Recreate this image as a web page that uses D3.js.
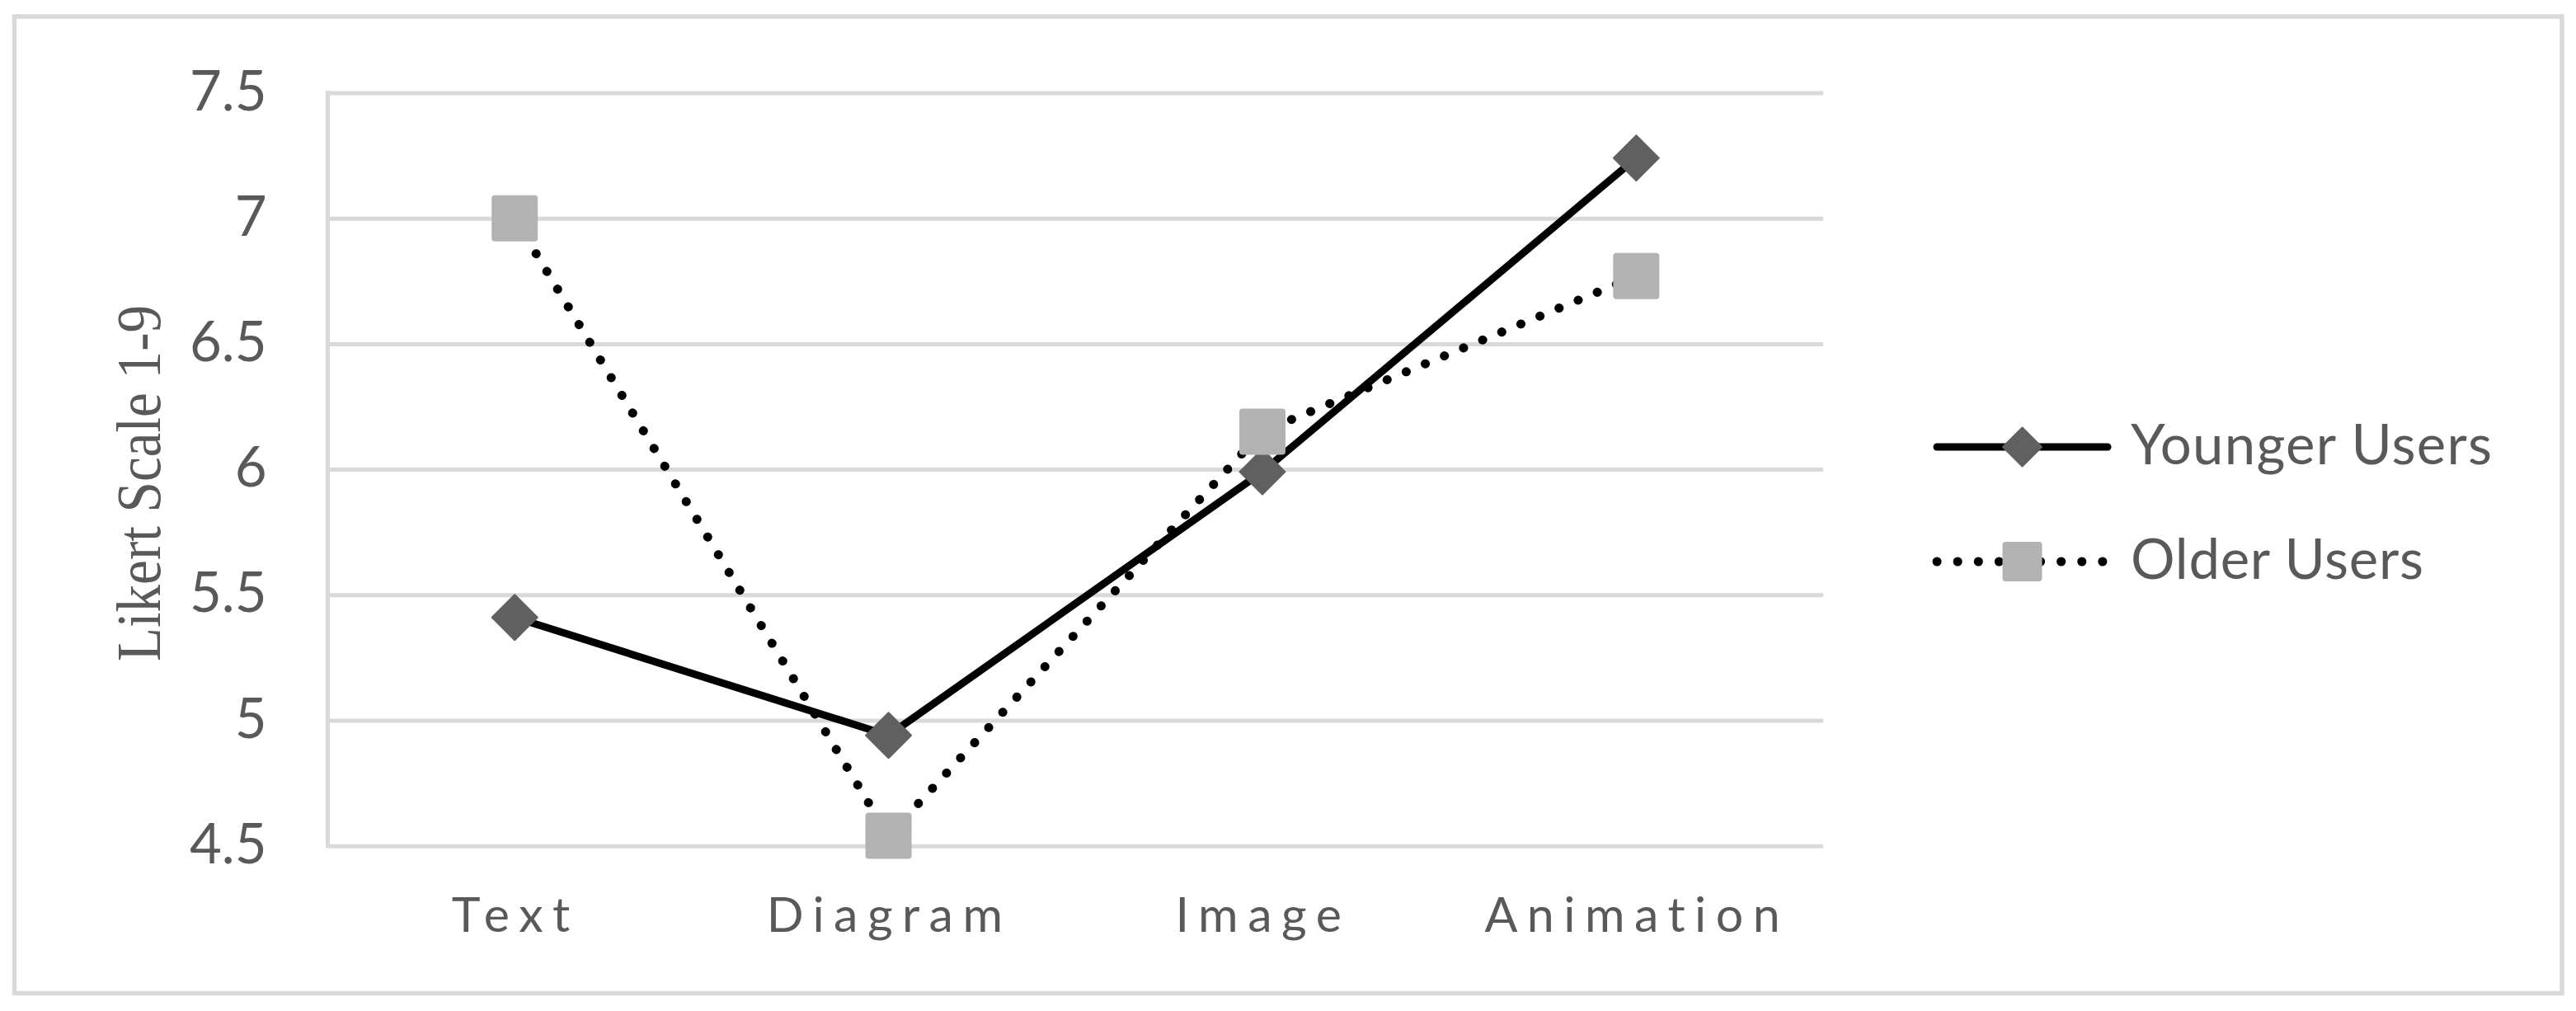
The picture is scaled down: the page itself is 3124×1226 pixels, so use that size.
<!DOCTYPE html>
<html>
<head>
<meta charset="utf-8">
<script src="https://cdn.jsdelivr.net/npm/d3@7"></script>
<style>
    html, body { margin: 0; padding: 0; background: #fff; }
    svg { display: block; }
    .axis-label { font-family: Lato, "Open Sans", sans-serif; fill: #595959; }
</style>
</head>
<body>
<svg id="chart"></svg>
<script>
// ---- chart values ----
const categories = ['Text', 'Diagram', 'Image', 'Animation'];
const seriesNames = ['Younger Users', 'Older Users'];
const youngerUsers = [5.41, 4.94, 5.99, 7.24];
const olderUsers = [7.00, 4.54, 6.15, 6.77];
const yTickValues = [4.5, 5, 5.5, 6, 6.5, 7, 7.5];
const yAxisTitle = 'Likert Scale 1-9';

const W = 3124, H = 1226;
const GRID = '#d9d9d9';
const TEXT = '#595959';

// plot frame (pixels)
const plot = { left: 397.5, right: 2211, top: 112.5, bottom: 1025.7 };

const series = [
    { name: seriesNames[0], values: youngerUsers, marker: 'diamond',
      fill: '#606060', width: 9, dash: null },
    { name: seriesNames[1], values: olderUsers, marker: 'square',
      fill: '#b2b2b2', width: 11, dash: '0.1 25' }
];

/**
 * Path for a marker centred on 0,0.
 */
function markerPath(kind, size) {
    const h = size / 2;
    if (kind === 'diamond') {
        return `M0,${-h} L${h},0 L0,${h} L${-h},0 Z`;
    }
    const r = 3;
    return `M${-h + r},${-h} H${h - r} Q${h},${-h} ${h},${-h + r} V${h - r} Q${h},${h} ${h - r},${h}` +
           ` H${-h + r} Q${-h},${h} ${-h},${h - r} V${-h + r} Q${-h},${-h} ${-h + r},${-h} Z`;
}

const svg = d3.select('#chart')
    .attr('width', W)
    .attr('height', H)
    .attr('viewBox', `0 0 ${W} ${H}`);

svg.append('rect')
    .attr('width', W).attr('height', H)
    .attr('fill', '#fff');

// outer chart border
svg.append('rect')
    .attr('x', 17.5).attr('y', 20)
    .attr('width', 3107 - 17.5).attr('height', 1204.5 - 20)
    .attr('fill', 'none')
    .attr('stroke', GRID)
    .attr('stroke-width', 5.5);

const x = d3.scaleBand()
    .domain(categories)
    .range([plot.left, plot.right])
    .padding(0);

const y = d3.scaleLinear()
    .domain([d3.min(yTickValues), d3.max(yTickValues)])
    .range([plot.bottom, plot.top]);

const cx = c => x(c) + x.bandwidth() / 2;

// ---- y axis: gridlines + labels ----
const yAxis = svg.append('g')
    .attr('transform', `translate(${plot.left},0)`)
    .call(d3.axisLeft(y)
        .tickValues(yTickValues)
        .tickFormat(d3.format('~g'))
        .tickSize(-(plot.right - plot.left))
        .tickPadding(74));

yAxis.select('.domain').remove();
yAxis.selectAll('.tick line')
    .attr('stroke', GRID)
    .attr('stroke-width', 5);
yAxis.selectAll('.tick text')
    .attr('class', 'axis-label')
    .attr('font-size', 67)
    .attr('dy', null)
    .attr('y', 20.5);

// vertical value-axis line
svg.append('line')
    .attr('x1', plot.left).attr('x2', plot.left)
    .attr('y1', plot.top - 2.5).attr('y2', plot.bottom + 2.5)
    .attr('stroke', GRID)
    .attr('stroke-width', 5);

// ---- x axis labels ----
const xAxis = svg.append('g')
    .attr('transform', `translate(0,${plot.bottom})`)
    .call(d3.axisBottom(x).tickSize(0));

xAxis.select('.domain').remove();
xAxis.selectAll('.tick text')
    .attr('class', 'axis-label')
    .attr('font-size', 59)
    .attr('letter-spacing', 11.5)
    .attr('dx', 1)
    .attr('dy', null)
    .attr('y', 1130 - plot.bottom);

// ---- y axis title ----
svg.append('text')
    .attr('transform', 'translate(194,586) rotate(-90)')
    .attr('text-anchor', 'middle')
    .attr('font-family', '"Liberation Serif", "Times New Roman", serif')
    .attr('font-size', 76)
    .attr('fill', TEXT)
    .attr('textLength', 432)
    .attr('lengthAdjust', 'spacingAndGlyphs')
    .text(yAxisTitle);

// ---- series lines and markers ----
const line = d3.line()
    .x((d, i) => cx(categories[i]))
    .y(d => y(d));

series.forEach(s => {
    const g = svg.append('g').attr('class', 'series');

    g.append('path')
        .datum(s.values)
        .attr('d', line)
        .attr('fill', 'none')
        .attr('stroke', '#000')
        .attr('stroke-width', s.width)
        .attr('stroke-linecap', 'round')
        .attr('stroke-linejoin', 'round')
        .attr('stroke-dasharray', s.dash);

    g.selectAll('path.marker')
        .data(s.values)
        .join('path')
        .attr('class', 'marker')
        .attr('transform', (d, i) => `translate(${cx(categories[i])},${y(d)})`)
        .attr('d', markerPath(s.marker, s.marker === 'diamond' ? 55 : 54))
        .attr('fill', s.fill)
        .attr('stroke', s.fill)
        .attr('stroke-width', 2)
        .attr('stroke-linejoin', 'round');
});

// ---- legend ----
const legend = svg.append('g').attr('class', 'legend');
const legendRows = [542, 681];

series.forEach((s, i) => {
    const row = legend.append('g')
        .attr('transform', `translate(0,${legendRows[i]})`);

    row.append('line')
        .attr('x1', 2349).attr('x2', 2556)
        .attr('stroke', '#000')
        .attr('stroke-width', s.width)
        .attr('stroke-linecap', 'round')
        .attr('stroke-dasharray', s.dash);

    row.append('path')
        .attr('transform', 'translate(2452.5,0)')
        .attr('d', markerPath(s.marker, s.marker === 'diamond' ? 47 : 46))
        .attr('fill', s.fill)
        .attr('stroke', s.fill)
        .attr('stroke-width', 2)
        .attr('stroke-linejoin', 'round');

    row.append('text')
        .attr('class', 'axis-label')
        .attr('x', 2584)
        .attr('y', 21)
        .attr('font-size', 67)
        .attr('textLength', i === 0 ? 438 : 355)
        .text(s.name);
});
</script>
</body>
</html>
